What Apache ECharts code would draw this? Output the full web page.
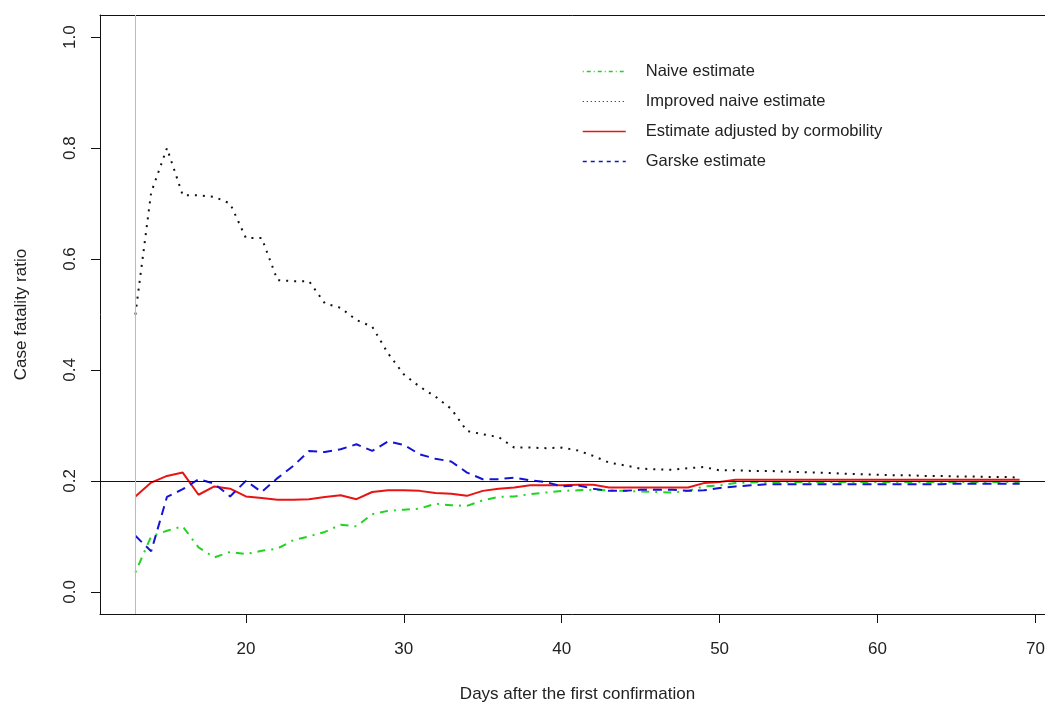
<!DOCTYPE html>
<html>
<head>
<meta charset="utf-8">
<script src="https://cdn.jsdelivr.net/npm/echarts@6/dist/echarts.min.js"></script>
<style>
  html, body { margin: 0; padding: 0; background: #fff; }
  #chart { width: 1045px; height: 704px; }
</style>
</head>
<body>
<div id="chart"></div>
<script>
// days after the first confirmation (13..69)
const days = [];
for (let d = 13; d <= 69; d++) days.push(d);

const naive = [0.035, 0.100, 0.110, 0.118, 0.080, 0.062, 0.072, 0.068, 0.074, 0.078,
  0.093, 0.100, 0.108, 0.121, 0.118, 0.140, 0.146, 0.148, 0.150, 0.159,
  0.156, 0.155, 0.165, 0.171, 0.172, 0.176, 0.179, 0.182, 0.183, 0.184,
  0.183, 0.182, 0.181, 0.180, 0.179, 0.182, 0.190, 0.192, 0.196, 0.197,
  0.198, 0.198, 0.198, 0.198, 0.198, 0.198, 0.198, 0.198, 0.198, 0.198,
  0.198, 0.198, 0.198, 0.198, 0.198, 0.198, 0.198];

const improved = [0.500, 0.720, 0.800, 0.715, 0.715, 0.712, 0.700, 0.638, 0.638, 0.562,
  0.560, 0.560, 0.520, 0.512, 0.490, 0.478, 0.430, 0.392, 0.370, 0.352,
  0.330, 0.290, 0.284, 0.279, 0.260, 0.260, 0.259, 0.260, 0.255, 0.245,
  0.233, 0.228, 0.222, 0.221, 0.220, 0.223, 0.225, 0.219, 0.219, 0.218,
  0.218, 0.217, 0.216, 0.215, 0.214, 0.213, 0.212, 0.211, 0.210, 0.210,
  0.209, 0.209, 0.208, 0.208, 0.207, 0.207, 0.206];

const adjusted = [0.172, 0.197, 0.209, 0.215, 0.175, 0.190, 0.186, 0.172, 0.169, 0.166,
  0.166, 0.167, 0.171, 0.174, 0.167, 0.180, 0.183, 0.183, 0.182, 0.178,
  0.177, 0.173, 0.182, 0.186, 0.188, 0.192, 0.192, 0.192, 0.193, 0.193,
  0.188, 0.188, 0.188, 0.188, 0.188, 0.188, 0.196, 0.198, 0.202, 0.202,
  0.202, 0.202, 0.202, 0.202, 0.202, 0.202, 0.202, 0.202, 0.202, 0.202,
  0.202, 0.202, 0.202, 0.202, 0.202, 0.202, 0.202];

const garske = [0.101, 0.073, 0.171, 0.185, 0.203, 0.195, 0.172, 0.200, 0.180, 0.205,
  0.227, 0.254, 0.252, 0.257, 0.266, 0.254, 0.271, 0.265, 0.248, 0.240,
  0.235, 0.215, 0.203, 0.203, 0.206, 0.201, 0.198, 0.190, 0.192, 0.186,
  0.182, 0.182, 0.184, 0.184, 0.184, 0.182, 0.183, 0.187, 0.190, 0.192,
  0.194, 0.194, 0.194, 0.194, 0.194, 0.194, 0.194, 0.194, 0.194, 0.194,
  0.194, 0.194, 0.195, 0.195, 0.195, 0.195, 0.195];

const xTicks = [20, 30, 40, 50, 60, 70];
const yTicks = [0, 0.2, 0.4, 0.6, 0.8, 1.0];
const refLevel = 0.204;
const startDay = 13;

const font = 'Liberation Sans, Arial, sans-serif';
const pairs = arr => days.map((d, i) => [d, arr[i]]);

const cGreen = '#22d422', cBlack = '#111', cRed = '#e81414', cBlue = '#1414d4';
const dashDot = [2, 6, 8, 6], dotted = [2, 6], dashed = [9, 6];

let myChart = echarts.init(document.getElementById('chart'));
let option = {
    animation: false,
    backgroundColor: '#fff',
    grid: { left: 100, top: 15, right: -10, bottom: 90, outerBoundsMode: 'none' },
    legend: {
        orient: 'vertical',
        left: 582, top: 63, padding: 0,
        itemWidth: 43, itemHeight: 14, itemGap: 13,
        itemStyle: { opacity: 0 },
        textStyle: { fontFamily: font, fontSize: 16.5, color: '#222', padding: [0, 0, 0, 15] },
        data: [
            { name: 'Naive estimate', lineStyle: { color: cGreen, width: 1.4, type: [1, 3, 4, 3] } },
            { name: 'Improved naive estimate', lineStyle: { color: cBlack, width: 1, type: [1, 3] } },
            { name: 'Estimate adjusted by cormobility', lineStyle: { color: cRed, width: 1.5, type: 'solid' } },
            { name: 'Garske estimate', lineStyle: { color: cBlue, width: 1.4, type: [4, 4] } }
        ]
    },
    xAxis: [{
        type: 'value',
        min: 10.76, max: 71.24,
        name: 'Days after the first confirmation',
        nameLocation: 'middle', nameGap: 72,
        nameTextStyle: { fontFamily: font, fontSize: 17, color: '#222' },
        splitLine: { show: false },
        axisLine: { onZero: false, lineStyle: { color: '#111' } },
        axisTick: { customValues: xTicks, length: 9, lineStyle: { color: '#111' } },
        axisLabel: { customValues: xTicks, margin: 27, fontFamily: font, fontSize: 17, color: '#222' }
    }, {
        // top frame of the plot box
        type: 'value', position: 'top',
        min: 10.76, max: 71.24,
        splitLine: { show: false },
        axisLine: { onZero: false, lineStyle: { color: '#111' } },
        axisTick: { show: false },
        axisLabel: { show: false }
    }],
    yAxis: {
        type: 'value',
        min: -0.04, max: 1.04,
        name: 'Case fatality ratio',
        nameLocation: 'middle', nameGap: 70, nameRotate: 90,
        nameTextStyle: { fontFamily: font, fontSize: 17, color: '#222' },
        splitLine: { show: false },
        axisLine: { onZero: false, lineStyle: { color: '#111' } },
        axisTick: { customValues: yTicks, length: 9, lineStyle: { color: '#111' } },
        axisLabel: {
            customValues: yTicks, rotate: 90, margin: 21,
            fontFamily: font, fontSize: 17, color: '#222',
            formatter: v => v.toFixed(1)
        }
    },
    series: [
        {
            name: 'Naive estimate', type: 'line', data: pairs(naive),
            showSymbol: false, symbol: 'none',
            lineStyle: { color: cGreen, width: 2, type: dashDot },
            itemStyle: { color: cGreen },
            markLine: {
                silent: true, symbol: 'none', label: { show: false },
                lineStyle: { color: '#111', width: 1, type: 'solid' },
                data: [{ yAxis: refLevel }]
            }
        },
        {
            name: 'Improved naive estimate', type: 'line', data: pairs(improved),
            showSymbol: false, symbol: 'none',
            lineStyle: { color: cBlack, width: 2, type: dotted },
            itemStyle: { color: cBlack },
            markLine: {
                silent: true, symbol: 'none', label: { show: false },
                lineStyle: { color: '#bbb', width: 1, type: 'solid' },
                data: [{ xAxis: startDay }]
            }
        },
        {
            name: 'Estimate adjusted by cormobility', type: 'line', data: pairs(adjusted),
            showSymbol: false, symbol: 'none',
            lineStyle: { color: cRed, width: 2, type: 'solid' },
            itemStyle: { color: cRed }
        },
        {
            name: 'Garske estimate', type: 'line', data: pairs(garske),
            showSymbol: false, symbol: 'none',
            lineStyle: { color: cBlue, width: 2, type: dashed },
            itemStyle: { color: cBlue }
        }
    ]
};
option && myChart.setOption(option);
</script>
</body>
</html>
